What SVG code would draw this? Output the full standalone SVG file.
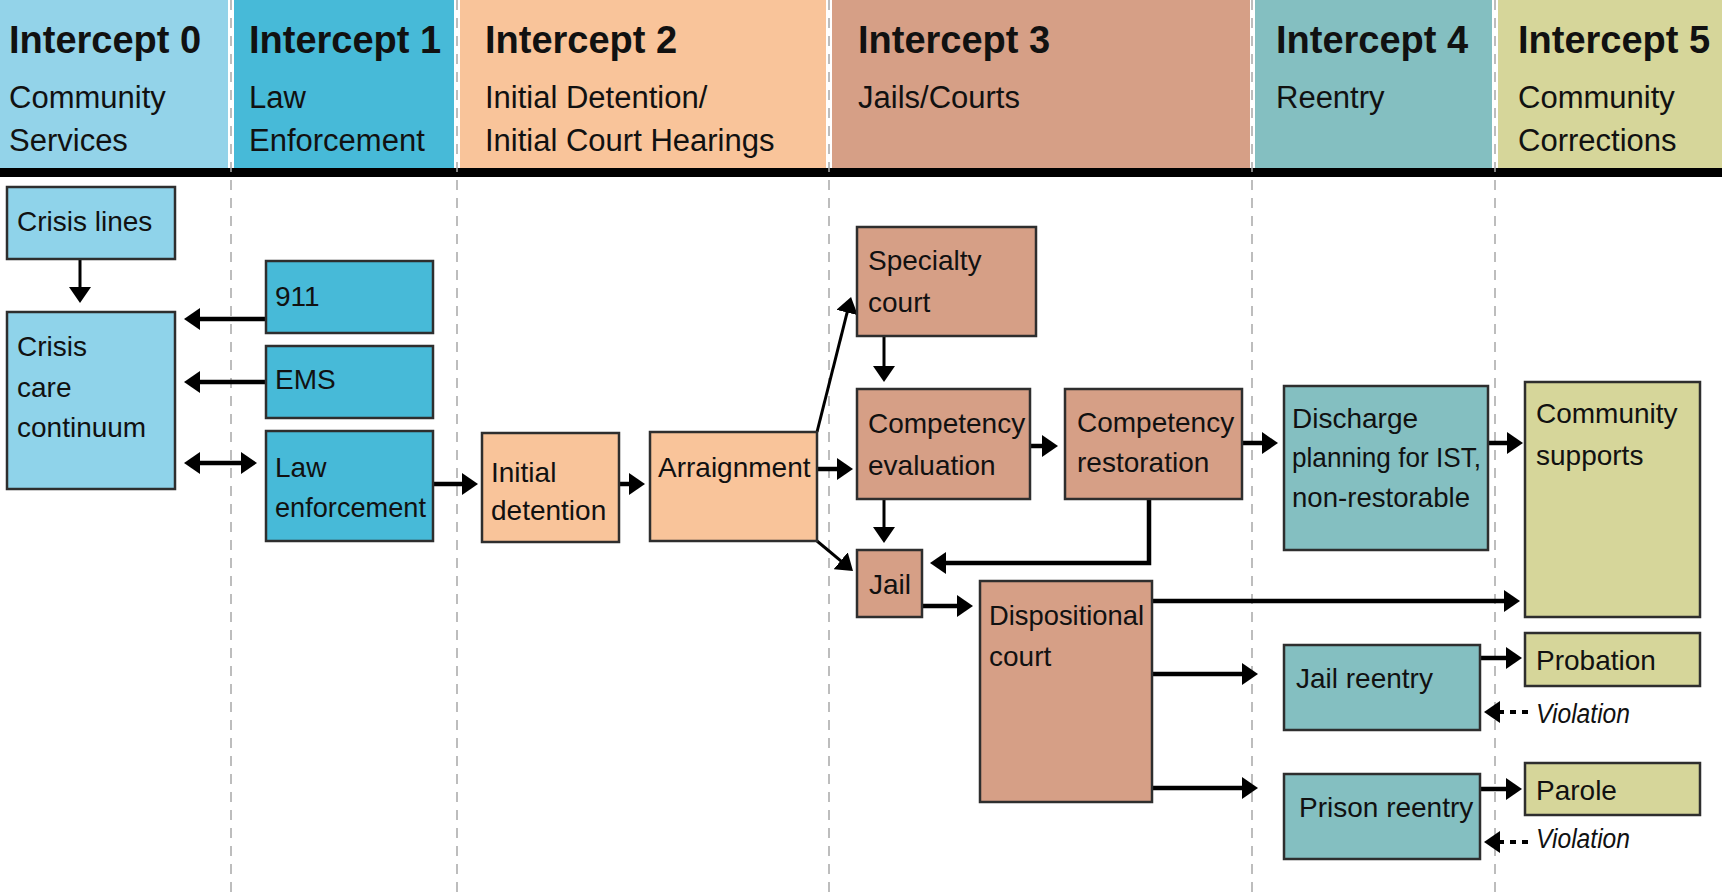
<svg xmlns="http://www.w3.org/2000/svg" width="1727" height="896" viewBox="0 0 1727 896">
<defs>
<style>
text{font-family:"Liberation Sans",Arial,sans-serif;fill:#111;}
.title{font-size:38px;font-weight:bold;}
.sub{font-size:31px;}
.lbl{font-size:28px;}
.viol{font-size:27px;font-style:italic;}
.box{stroke:#2e2e2e;stroke-width:2.5;}
.c0{fill:#8FD3EA;}
.c1{fill:#47BAD8;}
.c2{fill:#F9C49A;}
.c3{fill:#D69F86;}
.c4{fill:#84BFC1;}
.c5{fill:#D6D69A;}
.sep{stroke:#a8a8a8;stroke-width:1.5;stroke-dasharray:10 8;fill:none;}
.arr{stroke:#000;stroke-width:4.5;fill:none;marker-end:url(#ah);}
.thin{stroke-width:3;}
.dash{stroke:#000;stroke-width:4;fill:none;stroke-dasharray:6 6;marker-end:url(#ah);}
</style>
<marker id="ah" viewBox="0 0 16 22" refX="6" refY="11" markerWidth="16" markerHeight="22" markerUnits="userSpaceOnUse" orient="auto-start-reverse">
<path d="M0,0 L16,11 L0,22 Z" fill="#000"/>
</marker>
</defs>
<rect x="0" y="0" width="1727" height="896" fill="#fff"/>
<g id="header">
<rect x="0" y="0" width="228" height="168" class="c0" style="fill:#93D3E9"/>
<rect x="234" y="0" width="220" height="168" class="c1"/>
<rect x="460" y="0" width="366" height="168" class="c2"/>
<rect x="832" y="0" width="418" height="168" class="c3"/>
<rect x="1255" y="0" width="237" height="168" class="c4"/>
<rect x="1498" y="0" width="224" height="168" class="c5"/>
<rect x="0" y="168" width="1722" height="9" fill="#000"/>
<text class="title" x="9" y="53">Intercept 0</text>
<text class="sub" x="9" y="108">Community</text>
<text class="sub" x="9" y="151">Services</text>
<text class="title" x="249" y="53">Intercept 1</text>
<text class="sub" x="249" y="108">Law</text>
<text class="sub" x="249" y="151">Enforcement</text>
<text class="title" x="485" y="53">Intercept 2</text>
<text class="sub" x="485" y="108">Initial Detention/</text>
<text class="sub" x="485" y="151">Initial Court Hearings</text>
<text class="title" x="858" y="53">Intercept 3</text>
<text class="sub" x="858" y="108">Jails/Courts</text>
<text class="title" x="1276" y="53">Intercept 4</text>
<text class="sub" x="1276" y="108">Reentry</text>
<text class="title" x="1518" y="53">Intercept 5</text>
<text class="sub" x="1518" y="108">Community</text>
<text class="sub" x="1518" y="151">Corrections</text>
</g>
<g id="separators">
<line class="sep" x1="231" y1="0" x2="231" y2="896"/>
<line class="sep" x1="457" y1="0" x2="457" y2="896"/>
<line class="sep" x1="829" y1="0" x2="829" y2="896"/>
<line class="sep" x1="1252" y1="0" x2="1252" y2="896"/>
<line class="sep" x1="1495" y1="0" x2="1495" y2="896"/>
</g>
<g id="connectors">
<line class="arr thin" x1="80" y1="259" x2="80" y2="293"/>
<line class="arr" x1="266" y1="319" x2="194" y2="319"/>
<line class="arr" x1="266" y1="382" x2="194" y2="382"/>
<line class="arr" x1="194" y1="463" x2="247" y2="463" style="marker-start:url(#ah)"/>
<line class="arr" x1="433" y1="484" x2="468" y2="484"/>
<line class="arr" x1="619" y1="484" x2="635" y2="484"/>
<line class="arr" x1="817" y1="469" x2="843" y2="469"/>
<line class="arr thin" x1="817" y1="432" x2="848.6" y2="306.7"/>
<line class="arr thin" x1="817" y1="541" x2="845.3" y2="564.6"/>
<line class="arr thin" x1="884" y1="337" x2="884" y2="372"/>
<line class="arr" x1="1030" y1="446" x2="1048" y2="446"/>
<line class="arr thin" x1="884" y1="499" x2="884" y2="533"/>
<polyline class="arr" points="1149,499 1149,563 940,563"/>
<line class="arr" x1="1242" y1="443" x2="1268" y2="443"/>
<line class="arr" x1="1488" y1="443" x2="1513" y2="443"/>
<line class="arr" x1="922" y1="606" x2="963" y2="606"/>
<line class="arr" x1="1152" y1="601" x2="1510" y2="601"/>
<line class="arr" x1="1152" y1="674" x2="1248" y2="674"/>
<line class="arr" x1="1152" y1="788" x2="1248" y2="788"/>
<line class="arr" x1="1480" y1="658" x2="1512" y2="658"/>
<line class="arr" x1="1480" y1="789" x2="1512" y2="789"/>
<line class="dash" x1="1528" y1="712" x2="1494" y2="712"/>
<line class="dash" x1="1528" y1="842" x2="1494" y2="842"/>
<text class="viol" x="1536" y="723" textLength="94" lengthAdjust="spacingAndGlyphs">Violation</text>
<text class="viol" x="1536" y="848" textLength="94" lengthAdjust="spacingAndGlyphs">Violation</text>
</g>
<g id="crisis-lines">
<rect class="box c0" x="7" y="187" width="168" height="72"/>
<text class="lbl" x="17" y="231">Crisis lines</text>
</g>
<g id="crisis-care">
<rect class="box c0" x="7" y="312" width="168" height="177"/>
<text class="lbl" x="17" y="356">Crisis</text>
<text class="lbl" x="17" y="397">care</text>
<text class="lbl" x="17" y="437">continuum</text>
</g>
<g id="n911">
<rect class="box c1" x="266" y="261" width="167" height="72"/>
<text class="lbl" x="275" y="306">911</text>
</g>
<g id="ems">
<rect class="box c1" x="266" y="346" width="167" height="72"/>
<text class="lbl" x="275" y="389">EMS</text>
</g>
<g id="law-enforcement">
<rect class="box c1" x="266" y="431" width="167" height="110"/>
<text class="lbl" x="275" y="477">Law</text>
<text class="lbl" x="275" y="517" textLength="151" lengthAdjust="spacingAndGlyphs">enforcement</text>
</g>
<g id="initial-detention">
<rect class="box c2" x="482" y="433" width="137" height="109"/>
<text class="lbl" x="491" y="482">Initial</text>
<text class="lbl" x="491" y="520">detention</text>
</g>
<g id="arraignment">
<rect class="box c2" x="650" y="432" width="167" height="109"/>
<text class="lbl" x="658" y="477">Arraignment</text>
</g>
<g id="specialty-court">
<rect class="box c3" x="857" y="227" width="179" height="109"/>
<text class="lbl" x="868" y="270">Specialty</text>
<text class="lbl" x="868" y="312">court</text>
</g>
<g id="competency-evaluation">
<rect class="box c3" x="857" y="389" width="173" height="110"/>
<text class="lbl" x="868" y="433">Competency</text>
<text class="lbl" x="868" y="475">evaluation</text>
</g>
<g id="competency-restoration">
<rect class="box c3" x="1065" y="389" width="177" height="110"/>
<text class="lbl" x="1077" y="432">Competency</text>
<text class="lbl" x="1077" y="472">restoration</text>
</g>
<g id="jail">
<rect class="box c3" x="857" y="550" width="65" height="67"/>
<text class="lbl" x="869" y="594">Jail</text>
</g>
<g id="dispositional-court">
<rect class="box c3" x="980" y="581" width="172" height="221"/>
<text class="lbl" x="989" y="625" textLength="155" lengthAdjust="spacingAndGlyphs">Dispositional</text>
<text class="lbl" x="989" y="666">court</text>
</g>
<g id="discharge-planning">
<rect class="box c4" x="1284" y="386" width="204" height="164"/>
<text class="lbl" x="1292" y="428">Discharge</text>
<text class="lbl" x="1292" y="467" textLength="189" lengthAdjust="spacingAndGlyphs">planning for IST,</text>
<text class="lbl" x="1292" y="507" textLength="178" lengthAdjust="spacingAndGlyphs">non-restorable</text>
</g>
<g id="jail-reentry">
<rect class="box c4" x="1284" y="645" width="196" height="85"/>
<text class="lbl" x="1296" y="688">Jail reentry</text>
</g>
<g id="prison-reentry">
<rect class="box c4" x="1284" y="774" width="196" height="85"/>
<text class="lbl" x="1299" y="817">Prison reentry</text>
</g>
<g id="community-supports">
<rect class="box c5" x="1525" y="382" width="175" height="235"/>
<text class="lbl" x="1536" y="423">Community</text>
<text class="lbl" x="1536" y="465">supports</text>
</g>
<g id="probation">
<rect class="box c5" x="1525" y="633" width="175" height="53"/>
<text class="lbl" x="1536" y="670">Probation</text>
</g>
<g id="parole">
<rect class="box c5" x="1525" y="763" width="175" height="52"/>
<text class="lbl" x="1536" y="800">Parole</text>
</g>
</svg>
